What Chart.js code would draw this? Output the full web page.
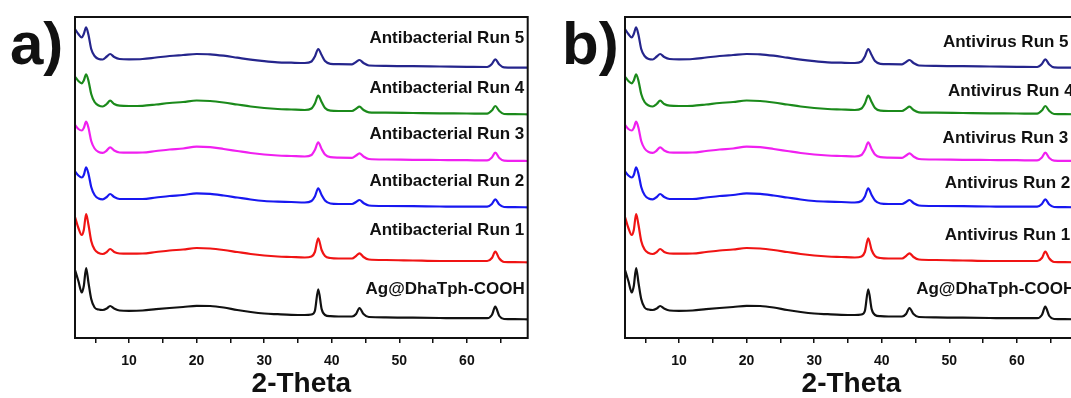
<!DOCTYPE html>
<html><head><meta charset="utf-8">
<script src="https://cdn.jsdelivr.net/npm/chart.js@4.4.1/dist/chart.umd.min.js"></script>
<style>
html,body{margin:0;padding:0;background:#fff;}
body{width:1071px;height:398px;overflow:hidden;position:relative;}
.panel{position:absolute;top:0;width:540px;height:398px;}
#pa{left:0}
#pb{left:550px}
</style></head><body>
<div class="panel" id="pa"><canvas id="ca"></canvas></div>
<div class="panel" id="pb"><canvas id="cb"></canvas></div>
<script>
// ---- data (2-Theta in degrees, intensity in arbitrary stacked units) ----
const twoTheta = [2.0, 2.5, 3.0, 3.3, 3.65, 4.0, 4.4, 4.9, 5.5, 6.1, 6.7, 7.2, 7.8, 8.6,
  10, 12, 14, 16, 18, 20, 22, 24, 26, 28, 30, 32, 34, 36,
  37.0, 37.5, 38.0, 38.5, 39.0, 39.8, 41,
  43.0, 43.6, 44.1, 44.7, 45.5, 48, 52, 56, 60,
  63.0, 63.7, 64.2, 64.8, 65.5, 67, 69];

const agDhaTph = [68, 57, 45.5, 52, 70, 55, 39, 30.5, 28.5, 28, 29.5, 32, 29.5, 27.5,
  27.2, 27.5, 28.8, 30, 31, 32.2, 32, 30.5, 28, 26, 24.5, 23.8, 23.2, 23,
  23.5, 27, 48.7, 29, 23, 21.8, 21.5,
  21.5, 24, 30, 24, 21, 20.7, 20.3, 20, 19.8,
  19.8, 23, 31.3, 22, 19, 18.8, 18.7];

const run1 = [121, 110, 103, 108, 124, 113, 97, 88.5, 85, 84, 86, 89, 86, 84.5,
  84.3, 84.5, 86, 87.5, 88.5, 90, 89.5, 88, 86, 84, 82.5, 81.5, 81, 80.5,
  81.5, 86, 99.7, 88, 82, 80, 79.5,
  79.5, 82, 84.7, 81, 78.5, 78, 77.5, 77, 77,
  77, 80, 86.3, 79.5, 76, 75.8, 75.7];

const run2 = [166.5, 162.5, 160.5, 163, 170.7, 164, 151, 143, 139.5, 138.7, 141, 144, 141, 139,
  139, 139, 140.5, 142, 143, 144.7, 144.2, 142.5, 140.5, 138.5, 137, 136.3, 136, 135.5,
  137, 141.5, 149.7, 143, 137.5, 134.5, 134,
  134, 136, 138, 135, 132.5, 132, 131.8, 131.5, 131.3,
  131.3, 134, 138.7, 133.5, 131, 130.8, 130.7];

const run3 = [213, 209, 207.5, 210, 216.3, 210, 197, 189.5, 186, 185.2, 187.5, 190.7, 187.5, 185.5,
  185.3, 185.5, 187, 188.5, 189.5, 191.3, 190.8, 189, 187, 185, 183.5, 182.5, 182, 181.5,
  183, 188, 195.7, 189, 183.5, 180.8, 180.3,
  180.2, 182.5, 184.7, 181.5, 179, 178.5, 178.2, 178, 177.8,
  177.6, 180.5, 185.3, 180, 177.3, 177.1, 177];

const run4 = [261.3, 257, 254.7, 257.5, 263.7, 257, 244, 236, 232.5, 231.5, 234, 237.3, 234, 232.3,
  232, 232.2, 233.5, 235, 236, 237.5, 237, 235.5, 233.5, 231.5, 230, 229, 228.5, 228,
  229.5, 234.5, 242.3, 236, 230, 227.3, 227,
  227, 229.3, 231.3, 228, 225.7, 225.3, 225, 224.7, 224.5,
  224.3, 227.5, 232, 227, 224, 223.8, 223.7];

const run5 = [309, 304, 300.5, 304, 310.7, 303, 289, 282, 279, 278.5, 281.5, 284, 281, 279,
  278.7, 279, 280.5, 282, 283, 284, 283.7, 282.3, 280.3, 278.3, 276.8, 275.7, 275.3, 275,
  276.5, 281.5, 289, 283, 277, 274.2, 273.8,
  273.7, 276, 278, 275, 272.5, 272.2, 271.8, 271.5, 271.2,
  271, 274, 278.7, 273.5, 270.6, 270.4, 270.3];

const tickValues = [5, 10, 15, 20, 25, 30, 35, 40, 45, 50, 55, 60, 65];
const tickLabels = ['', '10', '', '20', '', '30', '', '40', '', '50', '', '60', ''];

const labelsA = ['Antibacterial Run 5', 'Antibacterial Run 4', 'Antibacterial Run 3',
                 'Antibacterial Run 2', 'Antibacterial Run 1', 'Ag@DhaTph-COOH'];
const labelXA = [68.5, 68.5, 68.5, 68.5, 68.5, 68.55];
const labelYA = [299.3, 249.7, 203.7, 157, 108, 48.7];

const labelsB = ['Antivirus Run 5', 'Antivirus Run 4', 'Antivirus Run 3',
                 'Antivirus Run 2', 'Antivirus Run 1', 'Ag@DhaTph-COOH'];
const labelXB = [67.65, 68.4, 67.6, 67.9, 67.9, 68.65];
const labelYB = [295.3, 247, 199.7, 154.7, 103, 48.7];

// ---- styling ----
const series = [
  {vals: run5, color: '#25258c'},
  {vals: run4, color: '#1b8a1b'},
  {vals: run3, color: '#f020f0'},
  {vals: run2, color: '#1818f0'},
  {vals: run1, color: '#f01414'},
  {vals: agDhaTph, color: '#111111'}
];

const deco = {
  id: 'deco',
  afterDatasetsDraw(chart, args, opts) {
    const {ctx, chartArea: a, scales: {x, y}} = chart;
    ctx.save();
    ctx.strokeStyle = '#111';
    ctx.lineWidth = 2;
    ctx.strokeRect(a.left, a.top, a.right - a.left, a.bottom - a.top);
    ctx.fillStyle = '#111';
    ctx.font = 'bold 17px "Liberation Sans", Arial, sans-serif';
    ctx.textAlign = 'right';
    ctx.textBaseline = 'middle';
    opts.texts.forEach((t, i) => {
      ctx.fillText(t, x.getPixelForValue(opts.tx[i]), y.getPixelForValue(opts.ty[i]));
    });
    ctx.font = 'bold 60px "Liberation Sans", Arial, sans-serif';
    ctx.textAlign = 'left';
    ctx.textBaseline = 'alphabetic';
    ctx.fillText(opts.tag, opts.tagX, opts.tagY);
    ctx.restore();
  }
};

function makeChart(id, texts, tx, ty, tag, tagX, tagY) {
  return new Chart(document.getElementById(id), {
    type: 'line',
    data: {
      datasets: series.map(s => ({
        data: twoTheta.map((v, i) => ({x: v, y: s.vals[i]})),
        borderColor: s.color,
        borderWidth: 2.2,
        pointRadius: 0,
        fill: false,
        cubicInterpolationMode: 'monotone'
      }))
    },
    options: {
      responsive: true,
      maintainAspectRatio: false,
      animation: false,
      events: [],
      layout: {autoPadding: false, padding: {left: 75, right: 12.3, top: 17, bottom: 0}},
      plugins: {
        legend: {display: false},
        tooltip: {enabled: false},
        deco: {texts, tx, ty, tag, tagX, tagY}
      },
      scales: {
        x: {
          type: 'linear',
          min: 2, max: 69,
          afterBuildTicks: s => { s.ticks = tickValues.map(v => ({value: v})); },
          afterFit: s => { s.height = 60; },
          border: {display: false},
          grid: {drawOnChartArea: false, drawTicks: true, tickLength: 5, color: '#111', lineWidth: 1.5},
          ticks: {
            padding: 10,
            color: '#111',
            font: {family: '"Liberation Sans", Arial, sans-serif', size: 14, weight: 'bold'},
            maxRotation: 0, autoSkip: false,
            callback: (v, i) => tickLabels[i]
          },
          title: {
            display: true, text: '2-Theta', color: '#111',
            font: {family: '"Liberation Sans", Arial, sans-serif', size: 28, weight: 'bold', lineHeight: 1},
            padding: {top: 0, bottom: 0}
          }
        },
        y: {
          type: 'linear', min: 0, max: 321, display: false
        }
      }
    },
    plugins: [deco]
  });
}

makeChart('ca', labelsA, labelXA, labelYA, 'a)', 10, 64);
makeChart('cb', labelsB, labelXB, labelYB, 'b)', 12, 64);
</script>
</body></html>
